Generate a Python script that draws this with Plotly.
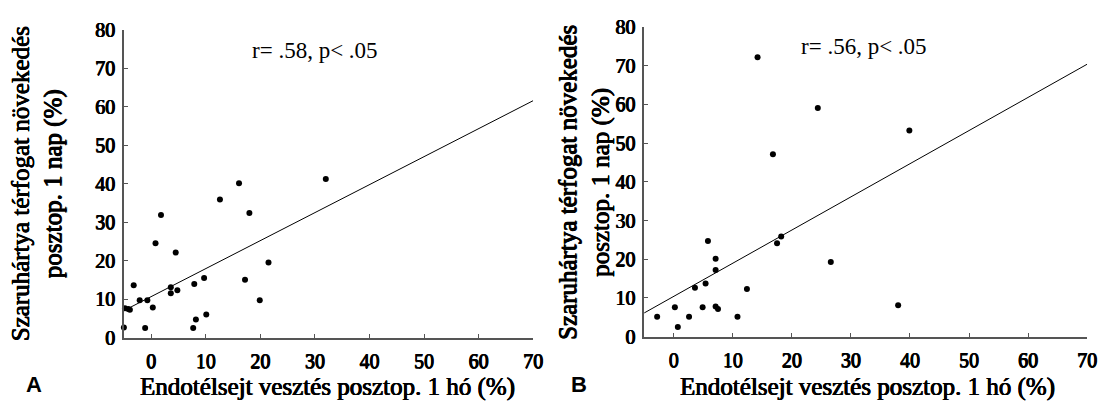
import plotly.graph_objects as go

# Panel A data
a_x = [-4.8, -4.2, -3.9, -5.0, -3.2, -2.1, -0.7, -1.1, 0.3, 0.8, 1.8, 3.6, 3.6, 4.8, 4.5,
       7.7, 8.2, 7.9, 9.7, 10.1, 12.6, 16.1, 18.0, 17.2, 19.9, 21.5, 32.0]
a_y = [7.6, 7.4, 7.2, 2.6, 13.6, 9.7, 9.7, 2.5, 7.8, 24.5, 31.9, 13.1, 11.5, 12.3, 22.1,
       2.5, 4.7, 13.9, 15.5, 6.0, 35.9, 40.1, 32.4, 15.0, 9.7, 19.5, 41.2]
a_fit_x = [-5, 70]
a_fit_y = [7.0, 61.6]

# Panel B data
b_x = [-2.8, 0.2, 0.7, 2.6, 3.6, 4.9, 5.4, 5.8, 7.1, 7.1, 7.1, 7.5, 10.8, 12.4, 17.5, 18.2,
       26.6, 38.0, 14.2, 16.8, 24.4, 39.9]
b_y = [5.1, 7.6, 2.5, 5.1, 12.6, 7.6, 13.7, 24.7, 20.1, 17.2, 7.8, 7.1, 5.1, 12.3, 24.1, 25.9,
       19.3, 8.1, 72.2, 47.1, 59.1, 53.3]
b_fit_x = [-5, 70]
b_fit_y = [6.1, 70.4]

x_ticks = [0, 10, 20, 30, 40, 50, 60, 70]
y_ticks = [0, 10, 20, 30, 40, 50, 60, 70, 80]

x_title = "Endotélsejt vesztés posztop. 1 hó (%)"
y_title = "Szaruhártya térfogat növekedés<br>posztop. 1 nap (%)"
stats = ["r= .58, p< .05", "r= .56, p< .05"]
panel_labels = ["A", "B"]

W, H = 1112, 411
SERIF = "Liberation Serif"
# faux bold via text shadow (bold serif face is not available)
BOLD = "0.6px 0 0 black, -0.3px 0 0 black, 0 0.4px 0 black"

fig = go.Figure()
for xs, ys, fx, fy, xa, ya in [(a_x, a_y, a_fit_x, a_fit_y, "x", "y"),
                               (b_x, b_y, b_fit_x, b_fit_y, "x2", "y2")]:
    fig.add_trace(go.Scatter(x=fx, y=fy, mode="lines", xaxis=xa, yaxis=ya,
                             line=dict(color="black", width=1), showlegend=False,
                             hoverinfo="skip"))
    fig.add_trace(go.Scatter(x=xs, y=ys, mode="markers", xaxis=xa, yaxis=ya,
                             marker=dict(color="black", size=6), cliponaxis=False,
                             showlegend=False))

axis_common = dict(showline=True, linecolor="#555", linewidth=1.5, ticks="inside",
                   ticklen=4, tickcolor="#555", tickwidth=1, showgrid=False, zeroline=False,
                   tickfont=dict(family=SERIF, size=20, color="black", shadow=BOLD))

fig.update_layout(
    width=W, height=H, autosize=False,
    margin=dict(l=0, r=0, t=0, b=0),
    paper_bgcolor="white", plot_bgcolor="white",
    xaxis=dict(domain=[125 / W, 538 / W], range=[-5, 70], tickvals=x_ticks, anchor="y",
               ticklabelstandoff=5, **axis_common),
    yaxis=dict(domain=[(H - 345) / H, (H - 20) / H], range=[0, 80], tickvals=y_ticks, anchor="x",
               ticklabelstandoff=3, **axis_common),
    xaxis2=dict(domain=[650 / W, 1097 / W], range=[-5, 70], tickvals=x_ticks, anchor="y2",
                ticklabelstandoff=5, **axis_common),
    yaxis2=dict(domain=[(H - 344) / H, (H - 17) / H], range=[0, 80], tickvals=y_ticks, anchor="x2",
                ticklabelstandoff=3, **axis_common),
)

def px_x(p):
    return p / W

def px_y(p):
    return (H - p) / H

ann = []
# y titles
for cx, cy in [(37.5, 183), (590, 181)]:
    ann.append(dict(text=y_title, x=px_x(cx), y=px_y(cy), xref="paper", yref="paper",
                    textangle=-90, showarrow=False, xanchor="center", yanchor="middle",
                    font=dict(family=SERIF, size=25, color="black", shadow=BOLD)))
# x titles
for cx in [330, 875]:
    ann.append(dict(text=x_title, x=px_x(cx), y=px_y(397), xref="paper", yref="paper",
                    showarrow=False, xanchor="center", yanchor="middle",
                    font=dict(family=SERIF, size=25, color="black", shadow=BOLD)))
# stats
for txt, cx, cy in [(stats[0], 318, 42), (stats[1], 872, 38)]:
    ann.append(dict(text=txt, x=px_x(cx), y=px_y(cy), xref="paper", yref="paper",
                    showarrow=False, xanchor="center", yanchor="middle",
                    font=dict(family=SERIF, size=23, color="black")))
# panel labels
for lab, cx in zip(panel_labels, [34, 584]):
    ann.append(dict(text="<b>" + lab + "</b>", x=px_x(cx), y=px_y(395), xref="paper", yref="paper",
                    showarrow=False, xanchor="center", yanchor="middle",
                    font=dict(family="Liberation Sans", size=22, color="black")))
fig.update_layout(annotations=ann)

fig.write_html("out.html", config={"displayModeBar": False})
